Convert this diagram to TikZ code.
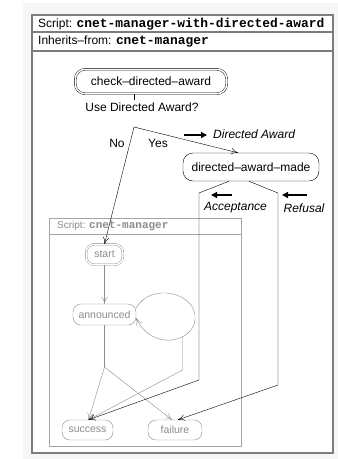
\documentclass[tikz,border=0pt]{standalone}
\usepackage{fontspec}
\setmainfont{Liberation Sans}
\setmonofont{Liberation Mono}
\usetikzlibrary{arrows.meta}
\tikzset{>={To[length=2.4mm,width=2.2mm]}}
\definecolor{faded}{HTML}{8C8C8C}
\definecolor{fadedframe}{HTML}{A4A4A4}
\definecolor{framegray}{HTML}{7C7C7C}

\begin{document}
\begin{tikzpicture}[x=1pt, y=-1pt, font=\fontsize{12}{14}\selectfont,
    heading/.style={anchor=west, inner sep=0pt},
    state/.style={draw, rounded corners=8pt, inner sep=0pt},
    initial/.style={state, double, double distance=1.5pt},
    oldstate/.style={draw=faded, text=faded, font=\fontsize{10.5}{12}\selectfont},
    tag/.style={inner sep=0pt, font=\fontsize{12}{14}\selectfont\itshape},
    tagarrow/.style={-{Triangle[length=6pt,width=6pt]}, line width=1.3pt}]
        \useasboundingbox (0,0) rectangle (338,459);
        \fill[gray!7] (23,3) rectangle (338,459);
        \filldraw[fill=white, draw=framegray, line width=1.2pt] (32,15) rectangle (333,453);
        \draw[framegray, line width=1.2pt] (32,32) -- (333,32) (32,51) -- (333,51);
        \node[heading] (header) at (38,24) {Script: {\fontsize{12.9}{14}\selectfont\ttfamily\bfseries cnet-manager-with-directed-award}};
        \node[heading] (parent) at (38,42) {Inherits--from: {\fontsize{12.9}{14}\selectfont\ttfamily\bfseries cnet-manager}};

        % new part of the script
        \node[initial, rounded corners=10pt, minimum width=151.5pt, minimum height=24.5pt] (check) at (151,81.5) {check--directed--award};
        \coordinate (ask) at (134,100);
        \node (question) at (142,107) {Use Directed Award?};
        \coordinate (fork) at (134,127);
        \node[state, rounded corners=10pt, minimum width=136pt, minimum height=28pt] (made) at (251,167) {directed--award--made};
        \node (no) at (117,143) {No};
        \node (yes) at (158,143) {Yes};
        \node[tag, anchor=west] (award) at (213,134) {Directed Award};
        \node[tag] (acceptance) at (235.5,208) {Acceptance};
        \node[tag] (refusal) at (304,208) {Refusal};
        \coordinate (awardtail) at (184,135);
        \coordinate (awardtip) at (207,135);
        \coordinate (acctail) at (232,195);
        \coordinate (acctip) at (211,195);
        \coordinate (reftail) at (307,195);
        \coordinate (reftip) at (282,195);

        % inherited script
        \draw[fadedframe] (49,218) rectangle (241,446) (49,234) -- (241,234);
        \node[heading, text=faded, font=\fontsize{10}{12}\selectfont] (oldtitle) at (57,226) {Script: {\fontsize{11}{12}\selectfont\ttfamily\bfseries cnet-manager}};
        \node[initial, oldstate, double=white, minimum width=36.5pt, minimum height=20.5pt] (start) at (104.5,254.5) {start};
        \node[state, oldstate, minimum width=63pt, minimum height=21pt] (announced) at (104.5,314.5) {announced};
        \node[state, oldstate, minimum width=51pt, minimum height=20pt] (success) at (87.5,430) {success};
        \node[state, oldstate, minimum width=54pt, minimum height=20pt] (failure) at (175,430) {failure};
        \coordinate (split) at (104.5,367);
        \coordinate (loopout) at (182.5,337);
        \coordinate (loopdown) at (182.5,370);

        \draw (check.south -| ask) -- (ask);
        \draw[->] (fork) -- ([xshift=-13pt]made.north);
        \draw[->] (fork) -- (start.north);
        \draw[tagarrow] (awardtail) -- (awardtip);
        \draw[tagarrow] (acctail) -- (acctip);
        \draw[tagarrow] (reftail) -- (reftip);

        \draw[->, faded] (start) -- (announced);
        \draw[faded] (announced) -- (split);
        \draw[->, faded] (split) -- ([xshift=1pt]success.north);
        \draw[->, faded] (split) -- ([xshift=-3pt]failure.north);
        \draw[->, faded] ([yshift=6.5pt]announced.east) .. controls (150,282) and (198,292) .. (195,320)
            .. controls (193,342) and (152,352) .. ([yshift=-3.5pt]announced.east);
        \draw[->, faded] (loopout) -- (loopdown) -- ([xshift=1pt]success.north);

        \draw[->] ([xshift=-22pt]made.south) -- (199,193) -- (199,380) -- ([xshift=1pt]success.north);
        \draw[->] ([xshift=-2pt]made.south) -- (278,193) -- (278,385) -- ([xshift=3pt]failure.north);
      \end{tikzpicture}
\end{document}
